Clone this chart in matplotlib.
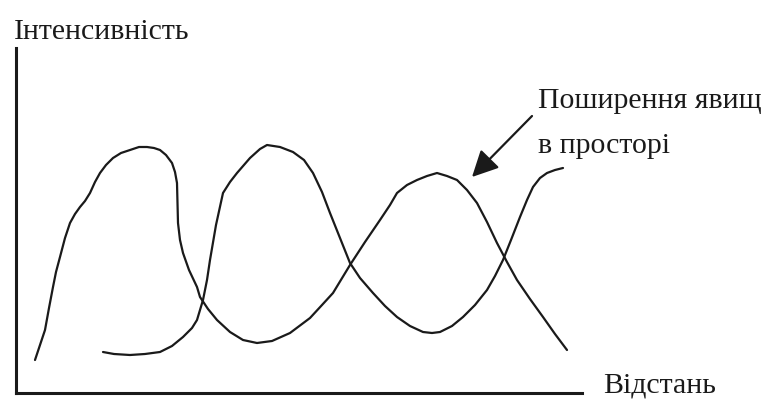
import matplotlib.pyplot as plt

# дані (умовні одиниці: відстань / інтенсивність)
wave1_x = [19, 24, 29, 33, 37, 40, 44, 49, 54, 59, 64, 69, 74, 79, 84, 90, 97, 105,
           114, 123, 131, 138, 144, 150, 156, 159, 161, 162, 164, 167, 173, 181,
           184, 192, 201, 214, 227, 241, 256, 274, 294, 306, 317, 334, 349, 364,
           374, 381, 391, 401, 411, 421, 431, 441, 451, 461, 471, 481, 491, 501,
           514, 527, 539, 551]
wave1_y = [33, 48, 63, 85, 106, 121, 136, 155, 170, 179, 186, 192, 200, 211, 220, 228, 235, 240,
           243, 246, 246, 245, 243, 238, 230, 221, 210, 170, 153, 140, 123, 106,
           96, 84, 73, 61, 53, 50, 52, 60, 75, 88, 100, 128, 151, 173,
           188, 200, 208, 213, 217, 220, 217, 213, 203, 190, 171, 150, 131, 113,
           94, 76, 59, 43]

wave2_x = [87, 98, 114, 129, 144, 156, 167, 176, 181, 187, 191, 194, 200, 207, 214,
           221, 234, 244, 251, 264, 277, 288, 297, 306, 314, 324, 334, 344, 357,
           369, 381, 394, 407, 416, 424, 436, 447, 459, 471, 479, 487, 495, 504,
           511, 517, 524, 531, 539, 547]
wave2_y = [41, 39, 38, 39, 41, 47, 56, 65, 73, 93, 113, 133, 168, 200, 211,
           220, 235, 244, 248, 246, 241, 233, 220, 201, 180, 155, 130, 115, 100,
           87, 76, 67, 61, 60, 61, 67, 76, 88, 103, 117, 133, 153, 176,
           193, 206, 215, 220, 223, 225]

arrow_tip = (456, 216)
arrow_tail = (516, 277)

label_y = "Інтенсивність"
label_x = "Відстань"
note_lines = ["Поширення явищ", "в просторі"]

plt.rcParams['font.family'] = ['Liberation Serif', 'DejaVu Serif']
ink = '#1a1a1a'

fig = plt.figure(figsize=(7.73, 3.99), dpi=100)
ax = fig.add_axes([16 / 773, 6 / 399, 566 / 773, 345 / 399])
ax.set_xlim(0, 566)
ax.set_ylim(0, 345)

ax.plot(wave1_x, wave1_y, color=ink, lw=1.6, solid_joinstyle='round', solid_capstyle='round')
ax.plot(wave2_x, wave2_y, color=ink, lw=1.6, solid_joinstyle='round', solid_capstyle='round')

ax.annotate('', xy=arrow_tip, xytext=arrow_tail,
            arrowprops=dict(arrowstyle='-|>,head_length=0.8,head_width=0.4',
                            mutation_scale=20, color=ink, lw=1.6,
                            shrinkA=0, shrinkB=0))

ax.text(522, 285, note_lines[0], fontsize=21.5, color=ink, va='baseline', ha='left')
ax.text(522, 240, note_lines[1], fontsize=21.5, color=ink, va='baseline', ha='left')
ax.text(-2, 354, label_y, fontsize=21.5, color=ink, va='baseline', ha='left')
ax.text(587, 1, label_x, fontsize=21.5, color=ink, va='baseline', ha='left')

for side in ['top', 'right']:
    ax.spines[side].set_visible(False)
for side in ['left', 'bottom']:
    ax.spines[side].set_linewidth(2.2)
    ax.spines[side].set_color(ink)
ax.set_xticks([])
ax.set_yticks([])
ax.patch.set_alpha(0)

fig.savefig('out.png', dpi=100)
